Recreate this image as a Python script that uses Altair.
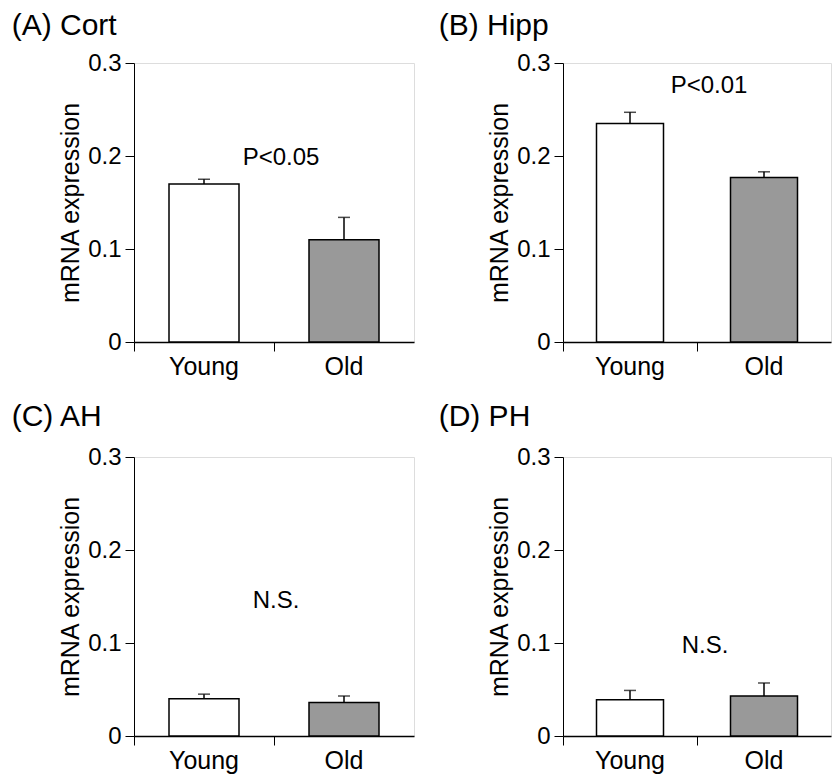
import altair as alt
import pandas as pd

panels = ["(A) Cort", "(B) Hipp", "(C) AH", "(D) PH"]
groups = ["Young", "Old"]
means = [[0.170, 0.110], [0.235, 0.177], [0.040, 0.036], [0.039, 0.043]]
errs = [[0.005, 0.024], [0.012, 0.006], [0.005, 0.007], [0.010, 0.014]]
notes = ["P<0.05", "P<0.01", "N.S.", "N.S."]
note_y = [0.198, 0.275, 0.1455, 0.097]
note_dx = [7, 12, 2, 8]
bar_colors = ["white", "#999999"]
y_ticks = [0, 0.1, 0.2, 0.3]

FONT = "Liberation Sans"


def panel(i, width, height, title_dx, title_offset):
    df = pd.DataFrame({
        "group": groups,
        "mean": means[i],
        "top": [m + e for m, e in zip(means[i], errs[i])],
    })
    note_df = pd.DataFrame({"group": ["Old"], "y": [note_y[i]], "label": [notes[i]]})

    xscale = alt.Scale(domain=groups, paddingInner=0, paddingOuter=0)
    xaxis = alt.Axis(title=None, bandPosition=0, tickSize=9, labelFontSize=25,
                     labelPadding=3, labelAngle=0, domainColor="black",
                     tickColor="black", labelColor="black", domainWidth=1.5,
                     tickWidth=1, labelFont=FONT)
    yscale = alt.Scale(domain=[0, 0.3], nice=False)
    yaxis = alt.Axis(title="mRNA expression", values=y_ticks, format=".1~f",
                     tickSize=9, labelFontSize=24, labelPadding=4,
                     titleFontSize=25, titleFontWeight="normal", titlePadding=4,
                     domainColor="black", tickColor="black", labelColor="black",
                     titleColor="black", grid=False, domainWidth=1,
                     labelFont=FONT, titleFont=FONT)

    x = alt.X("group:N", sort=groups, scale=xscale, axis=xaxis)
    base = alt.Chart(df)
    bars = base.mark_bar(stroke="black", strokeWidth=1.5,
                         width=alt.RelativeBandSize(0.5)).encode(
        x=x,
        y=alt.Y("mean:Q", scale=yscale, axis=yaxis),
        color=alt.Color("group:N", scale=alt.Scale(domain=groups, range=bar_colors), legend=None),
    )
    stem = base.mark_rule(color="black", strokeWidth=1.5).encode(
        x=alt.X("group:N", sort=groups),
        y="mean:Q", y2="top:Q")
    cap = base.mark_tick(color="black", thickness=1.5, size=12).encode(
        x=alt.X("group:N", sort=groups), y="top:Q")
    text = alt.Chart(note_df).mark_text(fontSize=24, font=FONT, color="black",
                                        dx=note_dx[i]).encode(
        x=alt.X("group:N", sort=groups, bandPosition=0),
        y="y:Q", text="label:N")
    return alt.layer(bars, stem, cap, text).properties(
        width=width, height=height,
        title=alt.TitleParams(panels[i], anchor="start", fontSize=30,
                              fontWeight="normal", font=FONT, color="black",
                              dx=title_dx, offset=title_offset),
    )


top = alt.hconcat(panel(0, 280, 279, -47, 10), panel(1, 268, 279, -49, 10), spacing=23)
bottom = alt.hconcat(panel(2, 280, 279, -47, 13), panel(3, 268, 279, -49, 13), spacing=23)
chart = alt.vconcat(top, bottom, spacing=21).properties(
    padding={"left": 3, "top": 2, "right": 0, "bottom": 0}
).configure_view(stroke=None, fill="#fbfbfb").configure(font=FONT)

chart.save("out.html", embed_options={"renderer": "svg", "actions": False})
